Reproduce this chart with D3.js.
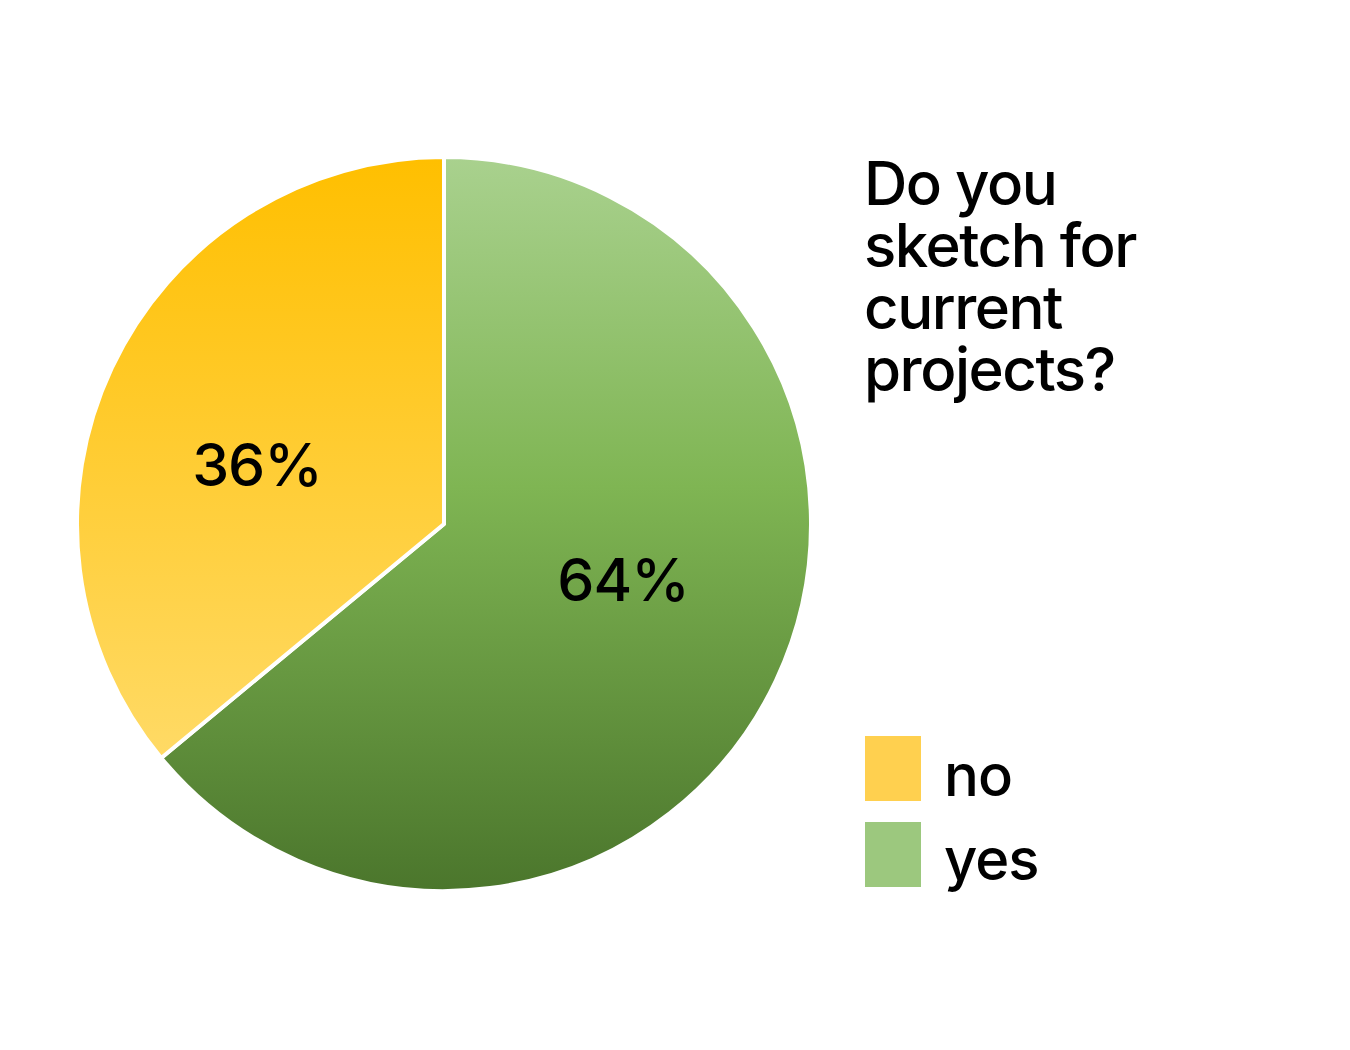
<!DOCTYPE html>
<html><head><meta charset="utf-8">
<script src="https://cdn.jsdelivr.net/npm/d3@7"></script>
<style>body{margin:0;background:#fff}svg{display:block}</style>
</head><body>
<script>
const categories = ["yes", "no"];
const values = [64, 36];
const labels = ["64%", "36%"];
const legendOrder = ["no", "yes"];
const title = ["Do you", "sketch for", "current", "projects?"];

const W = 1350, H = 1050;
const cx = 444, cy = 524, R = 367;
const svg = d3.select("body").append("svg").attr("width", W).attr("height", H);
const defs = svg.append("defs");
const grads = {
  yes: [["0%", "#a9d18e"], ["45%", "#7fb553"], ["100%", "#4b762c"]],
  no: [["0%", "#ffbf00"], ["100%", "#ffe07c"]]
};
Object.entries(grads).forEach(([k, stops]) => {
  const g = defs.append("linearGradient").attr("id", "g-" + k)
    .attr("gradientUnits", "userSpaceOnUse")
    .attr("x1", 0).attr("y1", -R).attr("x2", 0).attr("y2", R);
  stops.forEach(s => g.append("stop").attr("offset", s[0]).attr("stop-color", s[1]));
});
const swatch = { no: "#ffd04f", yes: "#9cc87e" };
const font = "Inter, 'Liberation Sans', sans-serif";

const pie = d3.pie().sort(null).value(d => d.v);
const data = pie(categories.map((c, i) => ({ c, v: values[i], l: labels[i] })));
const arc = d3.arc().innerRadius(0).outerRadius(R);
const g = svg.append("g").attr("transform", `translate(${cx},${cy})`);
g.selectAll("path").data(data).join("path")
  .attr("d", arc)
  .style("fill", d => `url(#g-${d.data.c})`)
  .attr("stroke", "#fff").attr("stroke-width", 4).attr("stroke-linejoin", "round");

const labelPos = { yes: [179, 77], no: [-187, -38] };
g.selectAll("text.pct").data(data).join("text").attr("class", "pct")
  .attr("x", d => labelPos[d.data.c][0]).attr("y", d => labelPos[d.data.c][1])
  .attr("text-anchor", "middle")
  .attr("font-family", font)
  .attr("font-size", 59).attr("font-weight", 500).attr("letter-spacing", -1)
  .attr("fill", "#000")
  .text(d => d.data.l);

svg.append("g").selectAll("text").data(title).join("text")
  .attr("x", 864).attr("y", (d, i) => 205 + i * 62)
  .attr("font-family", font)
  .attr("font-size", 60).attr("font-weight", 500).attr("letter-spacing", -1.5).attr("fill", "#000")
  .text(d => d);

const leg = svg.append("g");
legendOrder.forEach((k, i) => {
  leg.append("rect").attr("x", 865).attr("y", 736 + i * 86).attr("width", 56).attr("height", 65).attr("fill", swatch[k]);
  leg.append("text").attr("x", 944).attr("y", 796 + i * 84)
    .attr("font-family", font)
    .attr("font-size", 58).attr("font-weight", 500).attr("letter-spacing", -1).attr("fill", "#000").text(k);
});
</script>
</body></html>
